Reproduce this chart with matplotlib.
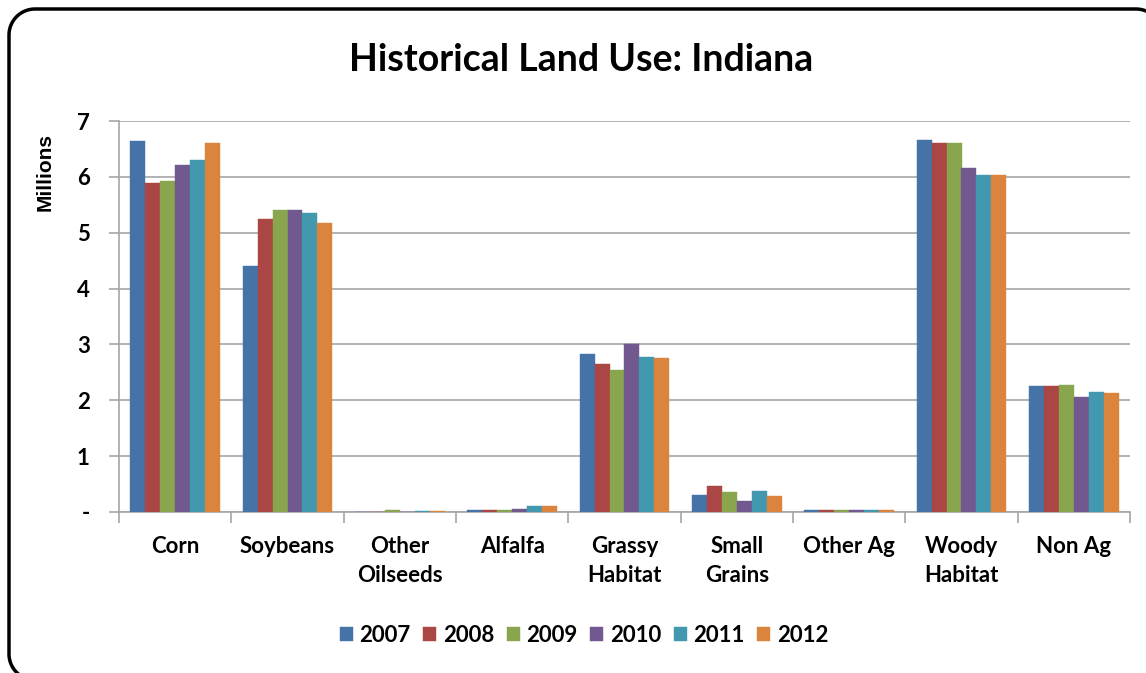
import matplotlib
matplotlib.use("Agg")
import matplotlib.pyplot as plt
import numpy as np
from matplotlib.lines import Line2D

categories = ["Corn", "Soybeans", "Other\nOilseeds", "Alfalfa", "Grassy\nHabitat",
              "Small\nGrains", "Other Ag", "Woody\nHabitat", "Non Ag"]
years = ["2007", "2008", "2009", "2010", "2011", "2012"]
v2007 = [6.64, 4.40, 0.00, 0.03, 2.83, 0.31, 0.03, 6.66, 2.25]
v2008 = [5.89, 5.24, 0.00, 0.03, 2.65, 0.47, 0.03, 6.60, 2.25]
v2009 = [5.92, 5.40, 0.03, 0.03, 2.55, 0.36, 0.03, 6.60, 2.27]
v2010 = [6.22, 5.40, 0.00, 0.05, 3.01, 0.19, 0.03, 6.15, 2.06]
v2011 = [6.30, 5.35, 0.02, 0.10, 2.78, 0.38, 0.03, 6.03, 2.15]
v2012 = [6.60, 5.17, 0.02, 0.10, 2.75, 0.29, 0.03, 6.03, 2.13]
series = [v2007, v2008, v2009, v2010, v2011, v2012]
colors = ["#4572A7", "#AA4643", "#89A54E", "#71588F", "#4198AF", "#DB843D"]
yticks = [0, 1, 2, 3, 4, 5, 6, 7]
ylabels = ["-", "1", "2", "3", "4", "5", "6", "7"]

plt.rcParams['font.family'] = ['Lato', 'DejaVu Sans']
W, H = 1146, 673
fig = plt.figure(figsize=(W / 100, H / 100), dpi=100)
ax = fig.add_axes([119 / W, 1 - 512 / H, (1130 - 119) / W, (512 - 121) / H])

x = np.arange(len(categories))
bw = 0.8 / 6
for i, (vals, c, yr) in enumerate(zip(series, colors, years)):
    ax.bar(x - 0.4 + bw * (i + 0.5), vals, width=bw, color=c, label=yr,
           edgecolor=c, linewidth=0.3, zorder=3)

ax.set_xlim(-0.5, len(categories) - 0.5)
ax.set_ylim(0, 7)
ax.set_yticks(yticks)
ax.set_yticklabels(ylabels, fontsize=16, fontweight='bold')
ax.yaxis.grid(True, color="#A6A6A6", linewidth=1.2, zorder=0)
ax.set_xticks(x)
ax.set_xticklabels(categories, fontsize=16, fontweight='bold', linespacing=1.5)
ax.tick_params(axis='x', which='major', length=0, pad=17)
ax.set_xticks(np.arange(-0.5, len(categories)), minor=True)
ax.tick_params(axis='x', which='minor', length=8, color="#A6A6A6", width=1.2)
ax.tick_params(axis='y', length=7, color="#A6A6A6", width=1.2, pad=14)
for s in ["top", "right"]:
    ax.spines[s].set_visible(False)
for s in ["left", "bottom"]:
    ax.spines[s].set_color("#A6A6A6")
    ax.spines[s].set_linewidth(1.2)
ax.set_ylabel("Millions", fontsize=15, fontweight='bold',
              family=['Liberation Sans', 'DejaVu Sans'])
ax.yaxis.set_label_coords(-0.064, 0.87)

fig.text(581 / W, 1 - 60 / H, "Historical Land Use: Indiana", ha='center', va='center',
         fontsize=27, fontweight='bold')

leg = fig.legend(loc='center', bbox_to_anchor=(584 / W, 1 - 635 / H), ncol=6,
                 frameon=False, handlelength=0.6, handleheight=0.6,
                 handletextpad=0.3, columnspacing=0.55, prop={'weight': 'bold', 'size': 16})

# rounded frame (pixel geometry converted to figure fractions)
r = 26
L, T, R, B = 9, 9, 1162, 680
px, py = [], []
def arc(cx, cy, a0, a1):
    t = np.linspace(np.radians(a0), np.radians(a1), 30)
    px.extend(cx + r * np.cos(t))
    py.extend(cy - r * np.sin(t))
arc(L + r, B - r, 270, 180)
arc(L + r, T + r, 180, 90)
arc(R - r, T + r, 90, 0)
arc(R - r, B - r, 0, -90)
px.append(px[0]); py.append(py[0])
frame = Line2D(np.array(px) / W, 1 - np.array(py) / H, transform=fig.transFigure,
               color='black', linewidth=2.5, solid_capstyle='round')
fig.lines.append(frame)

fig.savefig("out.png", dpi=100)
